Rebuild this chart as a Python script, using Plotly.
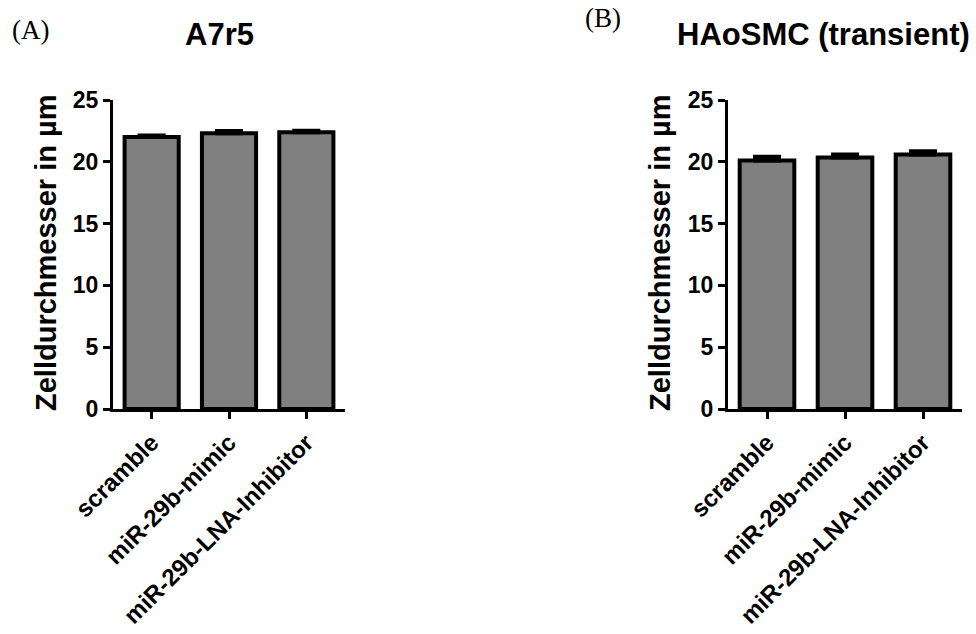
import plotly.graph_objects as go
from plotly.subplots import make_subplots

categories = ["scramble", "miR-29b-mimic", "miR-29b-LNA-Inhibitor"]
a7r5_mean = [22.0, 22.3, 22.4]
a7r5_sem = [0.12, 0.2, 0.12]
haosmc_mean = [20.1, 20.35, 20.6]
haosmc_sem = [0.3, 0.25, 0.25]
y_ticks = [0, 5, 10, 15, 20, 25]

W, H = 976, 634
BOLD = "Liberation Sans"
AX_W = 3

fig = make_subplots(rows=1, cols=2)

for col, (mean, sem) in enumerate([(a7r5_mean, a7r5_sem), (haosmc_mean, haosmc_sem)], start=1):
    fig.add_trace(
        go.Bar(
            x=categories, y=mean, width=0.7,
            marker=dict(color="#808080", line=dict(color="black", width=4)),
            error_y=dict(type="data", array=sem, arrayminus=[0] * len(sem),
                         symmetric=False, color="black", thickness=4, width=14),
            showlegend=False,
        ),
        row=1, col=col,
    )

y0 = 1 - 409 / H
y1 = 1 - 100 / H
fig.update_layout(
    width=W, height=H,
    margin=dict(l=0, r=0, t=0, b=0),
    paper_bgcolor="white", plot_bgcolor="white",
    font=dict(family=BOLD, color="black"),
    xaxis=dict(domain=[113 / W, 345 / W]),
    xaxis2=dict(domain=[728 / W, 962 / W]),
    yaxis=dict(domain=[y0, y1]),
    yaxis2=dict(domain=[y0, y1]),
    bargap=0.3,
)
for ax in ("xaxis", "xaxis2"):
    fig.layout[ax].update(
        range=[-0.5, 2.5], showline=True, linecolor="black", linewidth=AX_W,
        ticks="outside", ticklen=7, tickwidth=AX_W, tickcolor="black",
        tickangle=-45, showgrid=False, zeroline=False, automargin=False,
        tickfont=dict(family=BOLD, size=24, color="black", weight="bold"),
    )
for ax in ("yaxis", "yaxis2"):
    fig.layout[ax].update(
        range=[0, 25], tickvals=y_ticks, showline=True, linecolor="black",
        linewidth=AX_W, ticks="outside", ticklen=7, tickwidth=AX_W,
        tickcolor="black", showgrid=False, zeroline=False, automargin=False,
        tickfont=dict(family=BOLD, size=23, color="black", weight="bold"),
    )

annotations = [
    dict(text="(A)", x=10 / W, y=1 - 30 / H, xanchor="left", yanchor="middle",
         font=dict(family="Liberation Serif", size=27)),
    dict(text="A7r5", x=219 / W, y=1 - 34 / H, xanchor="center", yanchor="middle",
         font=dict(family=BOLD, size=31, weight="bold")),
    dict(text="(B)", x=583 / W, y=1 - 18 / H, xanchor="left", yanchor="middle",
         font=dict(family="Liberation Serif", size=27)),
    dict(text="HAoSMC (transient)", x=972 / W, y=1 - 34 / H, xanchor="right", yanchor="middle",
         font=dict(family=BOLD, size=31, weight="bold")),
    dict(text="Zelldurchmesser in µm", x=46 / W, y=1 - 253 / H, textangle=-90,
         xanchor="center", yanchor="middle", font=dict(family=BOLD, size=29, weight="bold")),
    dict(text="Zelldurchmesser in µm", x=660 / W, y=1 - 253 / H, textangle=-90,
         xanchor="center", yanchor="middle", font=dict(family=BOLD, size=29, weight="bold")),
]
for a in annotations:
    a.update(xref="paper", yref="paper", showarrow=False)
fig.update_layout(annotations=annotations)

fig.write_html("out.html")
